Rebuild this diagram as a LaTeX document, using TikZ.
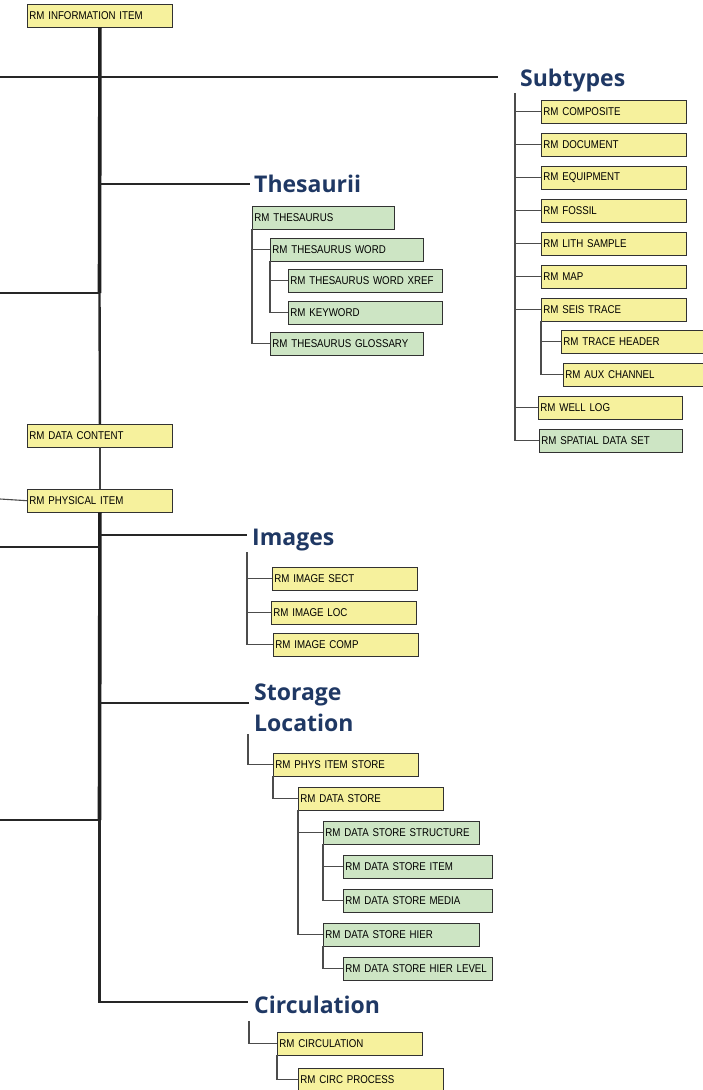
\documentclass[tikz,border=0pt]{standalone}
\usepackage{fontspec}
\setmainfont{Liberation Sans}
\newfontfamily\boxfont[FakeStretch=0.86]{Liberation Sans}
\newfontfamily\headfont{Open Sans}
\definecolor{rmyellow}{RGB}{246,241,157}
\definecolor{rmgreen}{RGB}{205,229,196}
\definecolor{rmnavy}{RGB}{31,56,100}
\definecolor{rmline}{RGB}{50,50,50}
\tikzset{
  rmbox/.style={draw=rmline, line width=0.9pt, anchor=north west, minimum height=22.5pt,
    inner xsep=2pt, inner ysep=0pt, text width=#1, align=left,
    font=\boxfont\fontsize{11.3}{13}\selectfont},
  rmbox/.default=141pt,
  ybox/.style={rmbox=#1, fill=rmyellow},
  ybox/.default=141pt,
  gbox/.style={rmbox=#1, fill=rmgreen},
  gbox/.default=141pt,
  group/.style={inner sep=0pt, text=rmnavy, align=left,
    font=\headfont\bfseries\fontsize{23}{31}\selectfont},
  trunk/.style={line width=3.6pt, draw=black!88},
  branch/.style={line width=2.4pt, draw=black!85},
  link/.style={line width=1.1pt, draw=black!70},
}
\begin{document}
\begin{tikzpicture}[x=1pt,y=-1pt]
\useasboundingbox (0,0) rectangle (703,1090);
\node[ybox] (info) at (27,4) {RM INFORMATION ITEM};
\node[ybox] (datacontent) at (27,424) {RM DATA CONTENT};
\node[ybox] (physical) at (27,489) {RM PHYSICAL ITEM};

\node[group, anchor=base west] (subtypes) at (520,86) {Subtypes};
\node[ybox] (comp) at (541,100) {RM COMPOSITE};
\node[ybox] (doc) at (541,133) {RM DOCUMENT};
\node[ybox] (equip) at (541,166) {RM EQUIPMENT};
\node[ybox] (fossil) at (541,199) {RM FOSSIL};
\node[ybox] (lith) at (541,232) {RM LITH SAMPLE};
\node[ybox] (map) at (541,265) {RM MAP};
\node[ybox] (seis) at (541,298) {RM SEIS TRACE};
\node[ybox] (header) at (561,330) {RM TRACE HEADER};
\node[ybox] (aux) at (563,363) {RM AUX CHANNEL};
\node[ybox=140pt] (welllog) at (538,396) {RM WELL LOG};
\node[gbox=139pt] (spatial) at (539,429) {RM SPATIAL DATA SET};

\node[group, anchor=base west] (thesaurii) at (254,192) {Thesaurii};
\node[gbox=138pt] (thes) at (252,206) {RM THESAURUS};
\node[gbox=149pt] (thesword) at (270,238) {RM THESAURUS WORD};
\node[gbox=150pt] (xref) at (288,269) {RM THESAURUS WORD XREF};
\node[gbox=150pt] (keyword) at (288,301) {RM KEYWORD};
\node[gbox=149pt] (gloss) at (270,332) {RM THESAURUS GLOSSARY};

\node[group, anchor=base west] (images) at (252,545) {Images};
\node[ybox] (isect) at (272,567) {RM IMAGE SECT};
\node[ybox] (iloc) at (271,601) {RM IMAGE LOC};
\node[ybox] (icomp) at (273,633) {RM IMAGE COMP};

\node[group, anchor=north west] (storage) at (254,684) {Storage\\Location};
\node[ybox] (pstore) at (273,753) {RM PHYS ITEM STORE};
\node[ybox] (dstore) at (298,787) {RM DATA STORE};
\node[gbox=152pt] (dstruct) at (323,821) {RM DATA STORE STRUCTURE};
\node[gbox=145pt] (ditem) at (343,855) {RM DATA STORE ITEM};
\node[gbox=145pt] (dmedia) at (343,889) {RM DATA STORE MEDIA};
\node[gbox=152pt] (dhier) at (323,923) {RM DATA STORE HIER};
\node[gbox=145pt] (dlevel) at (343,957) {RM DATA STORE HIER LEVEL};

\node[group, anchor=base west] (circulation) at (254,1013) {Circulation};
\node[ybox] (circ) at (277,1032) {RM CIRCULATION};
\node[ybox] (circproc) at (298,1068) {RM CIRC PROCESS};

\coordinate (j1) at (99.5,77);
\coordinate (j2) at (99.5,184);
\coordinate (j3) at (99.5,293);
\coordinate (j4) at (99.5,535);
\coordinate (j5) at (99.5,547);
\coordinate (j6) at (99.5,703);
\coordinate (j7) at (99.5,820);
\coordinate (j8) at (99.5,1002);
\coordinate (subend) at (498,77);
\coordinate (thesend) at (250,184);
\coordinate (imgend) at (247,535);
\coordinate (stoend) at (249,703);
\coordinate (circend) at (248,1002);
\coordinate (subtop) at (515,93);
\coordinate (imgtop) at (247,552);
\coordinate (stotop) at (248,734);
\coordinate (circtop) at (249,1021);

\draw[trunk] (info.south) -- (j3);
\draw[branch] (j3) -- (datacontent.north);
\draw[branch, draw=black!75] (datacontent.south) -- (physical.north);
\draw[trunk] (physical.south) -- (j7);
\draw[branch] (j7) -- (j8) -- (circend);
\draw[branch] (0,77) -- (subend);
\draw[branch] (j2) -- (thesend);
\draw[branch] (0,293) -- (j3);
\draw[link] (0,499) -- (physical.west);
\draw[branch] (j4) -- (imgend);
\draw[branch] (0,547) -- (j5);
\draw[branch] (j6) -- (stoend);
\draw[branch] (0,820) -- (j7);

\foreach \n in {comp,doc,equip,fossil,lith,map,seis,welllog,spatial}
  \draw[link] (subtop) |- (\n.west);
\foreach \n in {header,aux}
  \draw[link] (seis.south west) |- (\n.west);
\foreach \n in {thesword,gloss}
  \draw[link] (thes.south west) |- (\n.west);
\foreach \n in {xref,keyword}
  \draw[link] (thesword.south west) |- (\n.west);
\foreach \n in {isect,iloc,icomp}
  \draw[link] (imgtop) |- (\n.west);
\draw[link] (stotop) |- (pstore.west);
\draw[link] (pstore.south west) |- (dstore.west);
\foreach \n in {dstruct,dhier}
  \draw[link] (dstore.south west) |- (\n.west);
\foreach \n in {ditem,dmedia}
  \draw[link] (dstruct.south west) |- (\n.west);
\draw[link] (dhier.south west) |- (dlevel.west);
\draw[link] (circtop) |- (circ.west);
\draw[link] (circ.south west) |- (circproc.west);
\end{tikzpicture}
\end{document}
